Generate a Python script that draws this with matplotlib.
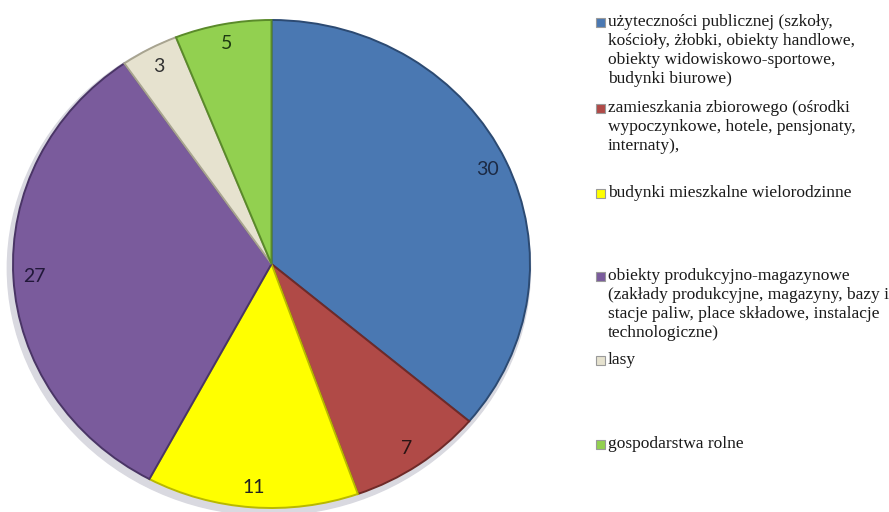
import matplotlib.pyplot as plt
from matplotlib.patches import Rectangle

# slice values (clockwise from 12 o'clock)
values = [30, 7, 11, 27, 3, 5]
labels = [
    "użyteczności publicznej (szkoły,\nkościoły, żłobki, obiekty handlowe,\nobiekty widowiskowo-sportowe,\nbudynki biurowe)",
    "zamieszkania zbiorowego (ośrodki\nwypoczynkowe, hotele, pensjonaty,\ninternaty),",
    "budynki mieszkalne wielorodzinne",
    "obiekty produkcyjno-magazynowe\n(zakłady produkcyjne, magazyny, bazy i\nstacje paliw, place składowe, instalacje\ntechnologiczne)",
    "lasy",
    "gospodarstwa rolne",
]
colors = ["#4a78b2", "#b04a47", "#ffff00", "#7a5b9c", "#e6e2cf", "#92d050"]
edges = ["#2c4a72", "#6e2a28", "#b8b800", "#4a3566", "#a8a490", "#5a8a2a"]
label_colors = ["#1c2a44", "#2a1414", "#222222", "#22183a", "#333333", "#1e3a12"]
# top y (pixels) of each legend entry
legend_top = [14, 100, 185, 268, 352, 436]

W, H = 889, 512
fig = plt.figure(figsize=(W / 100, H / 100), dpi=100)

# pie area in pixels: left, top, right, bottom
px0, py0, px1, py1 = 13, 20, 530, 508
ax = fig.add_axes([px0 / W, 1 - py1 / H, (px1 - px0) / W, (py1 - py0) / H])

total = sum(values)
# soft shadow
shadow = plt.Circle((-0.01, -0.018), 1.012, color="#d9d9e0", zorder=0, clip_on=False)
ax.add_patch(shadow)
wedges, texts, autotexts = ax.pie(
    values, colors=colors, startangle=90, counterclock=False,
    autopct=lambda p: "%d" % round(p * total / 100), pctdistance=0.92,
    wedgeprops=dict(linewidth=1.4),
    textprops=dict(fontsize=14, family="Lato"),
)
for w, ec in zip(wedges, edges):
    w.set_edgecolor(ec)
for t, c in zip(autotexts, label_colors):
    t.set_color(c)
ax.set_aspect("auto")
ax.set_xlim(-1.0, 1.0)
ax.set_ylim(-1.0, 1.0)
ax.axis("off")

# legend, drawn entry by entry
for lab, col, top in zip(labels, colors, legend_top):
    fig.text(608 / W, 1 - top / H, lab, ha="left", va="top",
             fontsize=12.5, family="Liberation Serif", color="#1a1a1a",
             linespacing=1.25)
    fig.patches.append(Rectangle((596 / W, 1 - (top + 13) / H), 9 / W, 9 / H,
                                 transform=fig.transFigure, facecolor=col,
                                 edgecolor="#9a9a9a", linewidth=0.8))

fig.savefig("out.png", dpi=100)
